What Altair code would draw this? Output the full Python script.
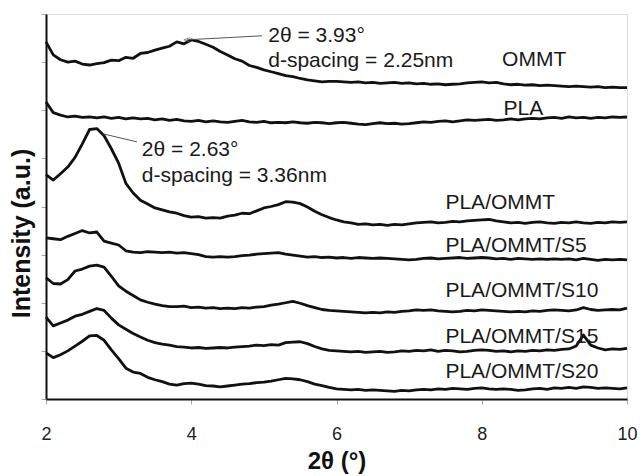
import altair as alt
import pandas as pd

# 2θ sample positions (degrees)
two_theta = [round(2.0 + 0.1 * i, 1) for i in range(81)]

series_names = ["OMMT", "PLA", "PLA/OMMT", "PLA/OMMT/S5", "PLA/OMMT/S10", "PLA/OMMT/S15", "PLA/OMMT/S20"]

ommt = [7.42, 7.15, 7.05, 7.00, 7.02, 6.96, 6.94, 6.97, 6.99, 7.04,
        7.03, 7.10, 7.08, 7.18, 7.20, 7.25, 7.29, 7.33, 7.42, 7.38,
        7.46, 7.43, 7.37, 7.31, 7.22, 7.15, 7.07, 7.02, 6.93, 6.89,
        6.84, 6.80, 6.76, 6.72, 6.70, 6.66, 6.63, 6.61, 6.59, 6.60,
        6.60, 6.59, 6.58, 6.59, 6.57, 6.58, 6.56, 6.57, 6.58, 6.56,
        6.57, 6.55, 6.56, 6.54, 6.55, 6.53, 6.54, 6.55, 6.57, 6.58,
        6.59, 6.57, 6.58, 6.55, 6.53, 6.54, 6.52, 6.53, 6.51, 6.52,
        6.51, 6.50, 6.49, 6.50, 6.49, 6.48, 6.49, 6.47, 6.48, 6.47,
        6.47]

pla = [6.17, 5.95, 5.90, 5.86, 5.88, 5.85, 5.86, 5.84, 5.86, 5.83,
       5.85, 5.82, 5.84, 5.82, 5.83, 5.80, 5.82, 5.79, 5.81, 5.78,
       5.77, 5.79, 5.76, 5.78, 5.76, 5.75, 5.77, 5.79, 5.76, 5.75,
       5.77, 5.74, 5.75, 5.74, 5.76, 5.74, 5.73, 5.75, 5.74, 5.72,
       5.74, 5.75, 5.73, 5.71, 5.70, 5.72, 5.74, 5.72, 5.73, 5.71,
       5.72, 5.74, 5.76, 5.75, 5.77, 5.78, 5.76, 5.78, 5.80, 5.79,
       5.80, 5.81, 5.79, 5.80, 5.82, 5.80, 5.82, 5.83, 5.82, 5.84,
       5.85, 5.83, 5.86, 5.84, 5.85, 5.83, 5.85, 5.84, 5.86, 5.85,
       5.86]

pla_ommt = [4.66, 4.55, 4.68, 4.82, 5.02, 5.30, 5.60, 5.62, 5.47, 5.20,
            4.90, 4.48, 4.28, 4.13, 4.05, 3.97, 3.93, 3.89, 3.86, 3.81,
            3.78, 3.79, 3.76, 3.77, 3.76, 3.80, 3.82, 3.86, 3.85, 3.91,
            3.97, 4.00, 4.04, 4.10, 4.09, 4.06, 3.99, 3.90, 3.83, 3.77,
            3.72, 3.68, 3.66, 3.63, 3.64, 3.62, 3.63, 3.61, 3.63, 3.62,
            3.64, 3.66, 3.67, 3.68, 3.66, 3.67, 3.69, 3.68, 3.70, 3.71,
            3.72, 3.73, 3.70, 3.68, 3.66, 3.67, 3.65, 3.67, 3.68, 3.66,
            3.65, 3.67, 3.66, 3.68, 3.66, 3.65, 3.67, 3.66, 3.68, 3.67,
            3.68]

s5 = [3.35, 3.33, 3.31, 3.38, 3.44, 3.50, 3.45, 3.47, 3.28, 3.24,
      3.20, 3.08, 3.05, 3.04, 3.06, 3.05, 3.04, 3.05, 3.03, 3.04,
      3.02, 3.00, 2.96, 2.95, 2.96, 2.95, 2.96, 2.98, 2.99, 3.01,
      3.02, 3.03, 3.04, 3.01, 2.99, 2.97, 2.95, 2.96, 2.94, 2.95,
      2.93, 2.94, 2.92, 2.94, 2.93, 2.92, 2.93, 2.92, 2.91, 2.90,
      2.89, 2.90, 2.92, 2.93, 2.91, 2.92, 2.93, 2.94, 2.92, 2.93,
      2.94, 2.93, 2.91, 2.92, 2.90, 2.92, 2.91, 2.90, 2.91, 2.90,
      2.91, 2.90, 2.91, 2.89, 2.92, 2.90, 2.88, 2.90, 2.89, 2.90,
      2.89]

s10 = [2.52, 2.40, 2.39, 2.48, 2.66, 2.70, 2.76, 2.78, 2.74, 2.55,
       2.35, 2.24, 2.15, 2.06, 2.01, 1.97, 1.94, 1.92, 1.92, 1.93,
       1.90, 1.91, 1.89, 1.90, 1.88, 1.89, 1.88, 1.90, 1.89, 1.91,
       1.92, 1.95, 1.97, 2.00, 2.03, 1.99, 1.94, 1.90, 1.86, 1.84,
       1.83, 1.82, 1.81, 1.80, 1.79, 1.80, 1.79, 1.81, 1.80, 1.82,
       1.83, 1.85, 1.84, 1.85, 1.83, 1.82, 1.81, 1.82, 1.84, 1.83,
       1.85, 1.84, 1.83, 1.82, 1.81, 1.82, 1.81, 1.83, 1.82, 1.84,
       1.85, 1.84, 1.83, 1.85, 1.90, 1.86, 1.84, 1.85, 1.86, 1.85,
       1.89]

s15 = [1.70, 1.52, 1.58, 1.64, 1.72, 1.76, 1.82, 1.88, 1.84, 1.68,
       1.54, 1.45, 1.36, 1.29, 1.22, 1.17, 1.14, 1.12, 1.09, 1.08,
       1.06, 1.07, 1.05, 1.06, 1.07, 1.06, 1.08, 1.09, 1.10, 1.12,
       1.11, 1.13, 1.12, 1.17, 1.18, 1.19, 1.15, 1.09, 1.04, 1.01,
       1.00, 0.99, 0.98, 0.99, 0.97, 0.98, 0.99, 0.97, 0.98, 1.00,
       0.99, 1.01, 1.00, 1.02, 0.99, 1.01, 1.00, 0.98, 0.99, 1.01,
       1.02, 1.01, 0.99, 1.00, 0.98, 1.00, 0.99, 1.01, 1.00, 1.02,
       1.01, 1.03, 1.04, 1.10, 1.33, 1.12, 1.06, 1.02, 1.04, 1.03,
       1.05]

s20 = [0.96, 0.86, 0.92, 1.00, 1.10, 1.20, 1.31, 1.32, 1.22, 1.02,
       0.84, 0.64, 0.56, 0.53, 0.45, 0.40, 0.36, 0.31, 0.29, 0.32,
       0.33, 0.31, 0.28, 0.27, 0.25, 0.27, 0.29, 0.31, 0.32, 0.34,
       0.35, 0.37, 0.40, 0.43, 0.42, 0.40, 0.36, 0.31, 0.28, 0.24,
       0.21, 0.20, 0.19, 0.20, 0.18, 0.19, 0.18, 0.17, 0.16, 0.18,
       0.17, 0.19, 0.20, 0.19, 0.21, 0.20, 0.22, 0.21, 0.20, 0.22,
       0.23, 0.21, 0.20, 0.21, 0.20, 0.18, 0.19, 0.21, 0.22, 0.20,
       0.23, 0.22, 0.24, 0.22, 0.25, 0.24, 0.22, 0.23, 0.22, 0.21,
       0.23]

series_values = [ommt, pla, pla_ommt, s5, s10, s15, s20]

# Text annotations (data coordinates, baseline positions)
label_texts = ["2θ = 3.93°", "d-spacing = 2.25nm", "OMMT", "PLA",
               "2θ = 2.63°", "d-spacing = 3.36nm", "PLA/OMMT",
               "PLA/OMMT/S5", "PLA/OMMT/S10", "PLA/OMMT/S15", "PLA/OMMT/S20"]
label_x = [5.06, 5.06, 8.28, 8.30, 3.32, 3.32, 7.50, 7.50, 7.50, 7.50, 7.50]
label_y = [7.42, 6.90, 6.92, 5.90, 5.05, 4.51, 3.95, 3.06, 2.12, 1.16, 0.44]

# Leader lines to the peaks
arrow_x = [4.975, 3.253]
arrow_y = [7.547, 5.343]
arrow_x2 = [3.942, 2.785]
arrow_y2 = [7.464, 5.510]

rows = []
for name, vals in zip(series_names, series_values):
    for t, v in zip(two_theta, vals):
        rows.append({"series": name, "two_theta": t, "intensity": v})
df = pd.DataFrame(rows)

labels_df = pd.DataFrame({"text": label_texts, "x": label_x, "y": label_y})
arrows_df = pd.DataFrame({"x": arrow_x, "y": arrow_y, "x2": arrow_x2, "y2": arrow_y2})
heads_df = pd.DataFrame({"x": arrow_x2[:1], "y": arrow_y2[:1]})

FONT = "Liberation Sans"
xscale = alt.Scale(domain=[2, 10], nice=False, zero=False)
yscale = alt.Scale(domain=[0, 8], nice=False, zero=True)

lines = alt.Chart(df).mark_line(color="#111111", strokeWidth=2.8, strokeJoin="round").encode(
    x=alt.X("two_theta:Q", scale=xscale,
            axis=alt.Axis(values=[2, 4, 6, 8, 10], format="d", title="2θ (°)", grid=False,
                          labelFont=FONT, labelFontSize=18, labelColor="#222222",
                          labelFlush=False, labelBound=False,
                          labelPadding=21, tickColor="#aaaaaa", tickSize=5, tickWidth=1,
                          domainColor="#111111", domainWidth=2,
                          titleFont=FONT, titleFontSize=24, titleFontWeight="bold",
                          titleColor="#111111", titlePadding=6)),
    y=alt.Y("intensity:Q", scale=yscale,
            axis=alt.Axis(values=[0, 1, 2, 3, 4, 5, 6, 7, 8], labels=False, grid=False,
                          title="Intensity (a.u.)", tickColor="#aaaaaa", tickSize=5, tickWidth=1,
                          domainColor="#111111", domainWidth=2,
                          titleFont=FONT, titleFontSize=25, titleFontWeight="bold",
                          titleColor="#111111", titlePadding=6, titleY=219)),
    detail="series:N",
)

texts = alt.Chart(labels_df).mark_text(align="left", baseline="alphabetic", font=FONT,
                                       fontSize=21, color="#1a1a1a").encode(
    x=alt.X("x:Q", scale=xscale), y=alt.Y("y:Q", scale=yscale), text="text:N")

arrows = alt.Chart(arrows_df).mark_rule(color="#555555", strokeWidth=1).encode(
    x=alt.X("x:Q", scale=xscale), y=alt.Y("y:Q", scale=yscale), x2="x2:Q", y2="y2:Q")

heads = alt.Chart(heads_df).mark_point(shape="M1,-0.7L-1,0L1,0.7", filled=False, size=40,
                                       color="#555555", strokeWidth=1).encode(
    x=alt.X("x:Q", scale=xscale), y=alt.Y("y:Q", scale=yscale))

chart = alt.layer(lines, arrows, heads, texts).properties(
    width=581, height=385,
    padding={"left": 46, "top": 14, "right": 14, "bottom": 77},
    autosize="none",
).configure_view(stroke="#111111", strokeWidth=2).configure(background="white")

chart.save("out.html", embed_options={"renderer": "svg", "actions": False})
